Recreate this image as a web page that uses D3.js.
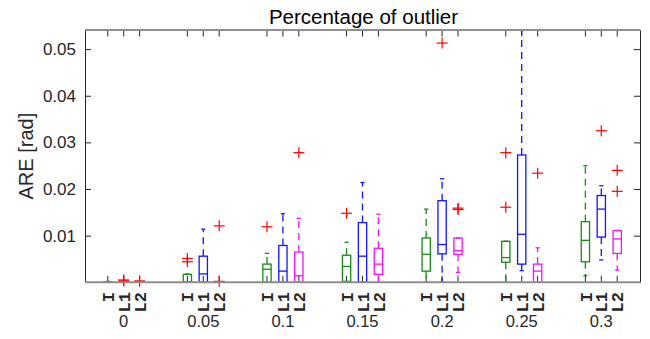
<!DOCTYPE html>
<html>
<head>
<meta charset="utf-8">
<script src="https://cdn.jsdelivr.net/npm/d3@7"></script>
<style>
  html, body { margin: 0; padding: 0; background: #fff; }
  svg { display: block; }
  text { font-family: "Liberation Sans", Arial, Helvetica, sans-serif; fill: #262626; }
</style>
</head>
<body>
<svg id="chart" width="650" height="339"></svg>
<script>
// Outlier percentage groups and estimation methods
const groups = ["0", "0.05", "0.1", "0.15", "0.2", "0.25", "0.3"];
const methods = ["I", "L1", "L2"];
const methodColors = ["#178a17", "#1414ff", "#f014f0"];

// Box statistics per group: [lower whisker, Q1, median, Q3, upper whisker]
const statsI = [
  [0, 0, 0, 0.0001, 0.0002],
  [0, 0, 0.0001, 0.0017, 0.0018],
  [0, 0, 0.0028, 0.0039, 0.0062],
  [0, 0.0002, 0.0034, 0.0058, 0.0086],
  [0, 0.0024, 0.0060, 0.0095, 0.0157],
  [0, 0.0043, 0.0053, 0.0088, 0.0088],
  [0.0014, 0.0044, 0.0090, 0.0130, 0.0250]
];
const statsL1 = [
  [0, 0, 0, 0.0001, 0.0001],
  [0, 0, 0.0018, 0.0056, 0.0114],
  [0, 0, 0.0024, 0.0079, 0.0147],
  [0, 0, 0.0056, 0.0128, 0.0214],
  [0, 0.0061, 0.0081, 0.0175, 0.0222],
  [0.0025, 0.0039, 0.0103, 0.0273, 0.0540],
  [0.0048, 0.0097, 0.0157, 0.0186, 0.0207]
];
const statsL2 = [
  [0, 0, 0, 0.0001, 0.0001],
  [0, 0, 0, 0.0001, 0.0001],
  [0, 0, 0.0014, 0.0065, 0.0137],
  [0, 0.0017, 0.0039, 0.0073, 0.0146],
  [0.0021, 0.0060, 0.0068, 0.0095, 0.0095],
  [0, 0, 0.0024, 0.0039, 0.0074],
  [0.0026, 0.0062, 0.0093, 0.0111, 0.0111]
];

// Outlying observations per group
const outliersI = [[], [0.0044, 0.0051], [0.0119], [0.0148], [], [0.0161, 0.0278], []];
const outliersL1 = [[0.0003, 0.0005], [], [], [], [0.0513], [], [0.0325]];
const outliersL2 = [[0.0003], [0.0002, 0.0121], [0.0278], [], [0.0156, 0.0159], [0.0234], [0.0195, 0.0240]];

const yTicks = [0.01, 0.02, 0.03, 0.04, 0.05];
const yMax = 0.0541;

const statsByMethod = [statsI, statsL1, statsL2];
const outliersByMethod = [outliersI, outliersL1, outliersL2];

const svg = d3.select("#chart");
const plot = { left: 85, right: 640, top: 30, bottom: 282.3 };

// Box slots: three methods side by side, groups separated by a gap
const slot = (g, k) => g * 5 + k;
const x = d3.scaleLinear().domain([-1.43, 33.43]).range([plot.left, plot.right]);
const y = d3.scaleLinear().domain([0, yMax]).range([plot.bottom, plot.top]);
const unit = x(1) - x(0);
const boxW = unit * 0.52;
const capW = boxW * 0.5;

// Title and axis label
svg.append("text")
  .attr("x", (plot.left + plot.right) / 2 + 1).attr("y", 24)
  .attr("text-anchor", "middle").style("font-size", "20.5px").style("fill", "#000")
  .text("Percentage of outlier");

svg.append("text")
  .attr("transform", `translate(33,${(plot.top + plot.bottom) / 2}) rotate(-90)`)
  .attr("text-anchor", "middle").style("font-size", "20px")
  .text("ARE [rad]");

// Y axes (left with labels, right mirrored), ticks pointing inward
const yAxisL = d3.axisLeft(y).tickValues(yTicks).tickSizeInner(-6).tickSizeOuter(0).tickPadding(9)
  .tickFormat(d3.format(".2f"));
const gL = svg.append("g").attr("transform", `translate(${plot.left},0)`).call(yAxisL);
gL.selectAll("text").style("font-size", "17px").attr("fill", "#262626");
gL.selectAll("line").attr("stroke", "#262626");
gL.select(".domain").attr("stroke", "#262626");

const yAxisR = d3.axisRight(y).tickValues(yTicks).tickSizeInner(-6).tickSizeOuter(0).tickFormat("");
const gR = svg.append("g").attr("transform", `translate(${plot.right},0)`).call(yAxisR);
gR.selectAll("line").attr("stroke", "#262626");
gR.select(".domain").attr("stroke", "#262626");

// X tick marks at every box slot, top and bottom, pointing inward
const slots = [];
groups.forEach((gName, g) => methods.forEach((m, k) => slots.push({ g, k, m, pos: slot(g, k) })));

const ticks = svg.append("g");
slots.forEach(s => {
  ticks.append("line").attr("x1", x(s.pos)).attr("x2", x(s.pos))
    .attr("y1", plot.bottom).attr("y2", plot.bottom - 6.5).attr("stroke", "#262626");
  ticks.append("line").attr("x1", x(s.pos)).attr("x2", x(s.pos))
    .attr("y1", plot.top).attr("y2", plot.top + 6.5).attr("stroke", "#262626");
});

// Boxplots
const boxes = svg.append("g").attr("fill", "none").attr("stroke-width", 1.3);
slots.forEach(s => {
  const [lo, q1, med, q3, hi] = statsByMethod[s.k][s.g];
  const cx = x(s.pos);
  const col = methodColors[s.k];
  const b = boxes.append("g").attr("stroke", col);
  // whiskers
  b.append("line").attr("x1", cx).attr("x2", cx).attr("y1", y(q3)).attr("y2", y(hi))
    .attr("stroke-dasharray", "7,5");
  b.append("line").attr("x1", cx).attr("x2", cx).attr("y1", y(q1)).attr("y2", y(lo))
    .attr("stroke-dasharray", "7,5");
  // whisker caps
  b.append("line").attr("x1", cx - capW / 2).attr("x2", cx + capW / 2).attr("y1", y(hi)).attr("y2", y(hi));
  b.append("line").attr("x1", cx - capW / 2).attr("x2", cx + capW / 2).attr("y1", y(lo)).attr("y2", y(lo));
  // box
  b.append("rect").attr("x", cx - boxW / 2).attr("width", boxW)
    .attr("y", y(q3)).attr("height", Math.max(0, y(q1) - y(q3)));
  // median
  b.append("line").attr("x1", cx - boxW / 2).attr("x2", cx + boxW / 2).attr("y1", y(med)).attr("y2", y(med));
});

// Outlier markers
const marks = svg.append("g").attr("stroke", "#ff0000").attr("stroke-width", 1.2);
const arm = 5.5;
slots.forEach(s => {
  outliersByMethod[s.k][s.g].forEach(v => {
    const cx = x(s.pos), cy = y(v);
    marks.append("line").attr("x1", cx - arm).attr("x2", cx + arm).attr("y1", cy).attr("y2", cy);
    marks.append("line").attr("x1", cx).attr("x2", cx).attr("y1", cy - arm).attr("y2", cy + arm);
  });
});

// Frame: grey top and bottom edges
svg.append("line").attr("x1", plot.left).attr("x2", plot.right + 0.5)
  .attr("y1", plot.bottom).attr("y2", plot.bottom).attr("stroke", "#8e8e8e").attr("stroke-width", 2);
svg.append("line").attr("x1", plot.left).attr("x2", plot.right + 0.5)
  .attr("y1", plot.top).attr("y2", plot.top).attr("stroke", "#8e8e8e").attr("stroke-width", 2);

// Method labels (rotated) and group labels
const labels = svg.append("g");
slots.forEach(s => {
  labels.append("text")
    .attr("transform", `translate(${x(s.pos)},292) rotate(-90)`)
    .attr("text-anchor", "end").attr("dy", "0.36em")
    .style("font-family", "'Courier New', 'Liberation Mono', monospace")
    .style("font-weight", "bold").style("font-size", "17px")
    .text(s.m);
});
groups.forEach((gName, g) => {
  labels.append("text")
    .attr("x", x(slot(g, 1))).attr("y", 327)
    .attr("text-anchor", "middle").style("font-size", "16.5px")
    .text(gName);
});
</script>
</body>
</html>
